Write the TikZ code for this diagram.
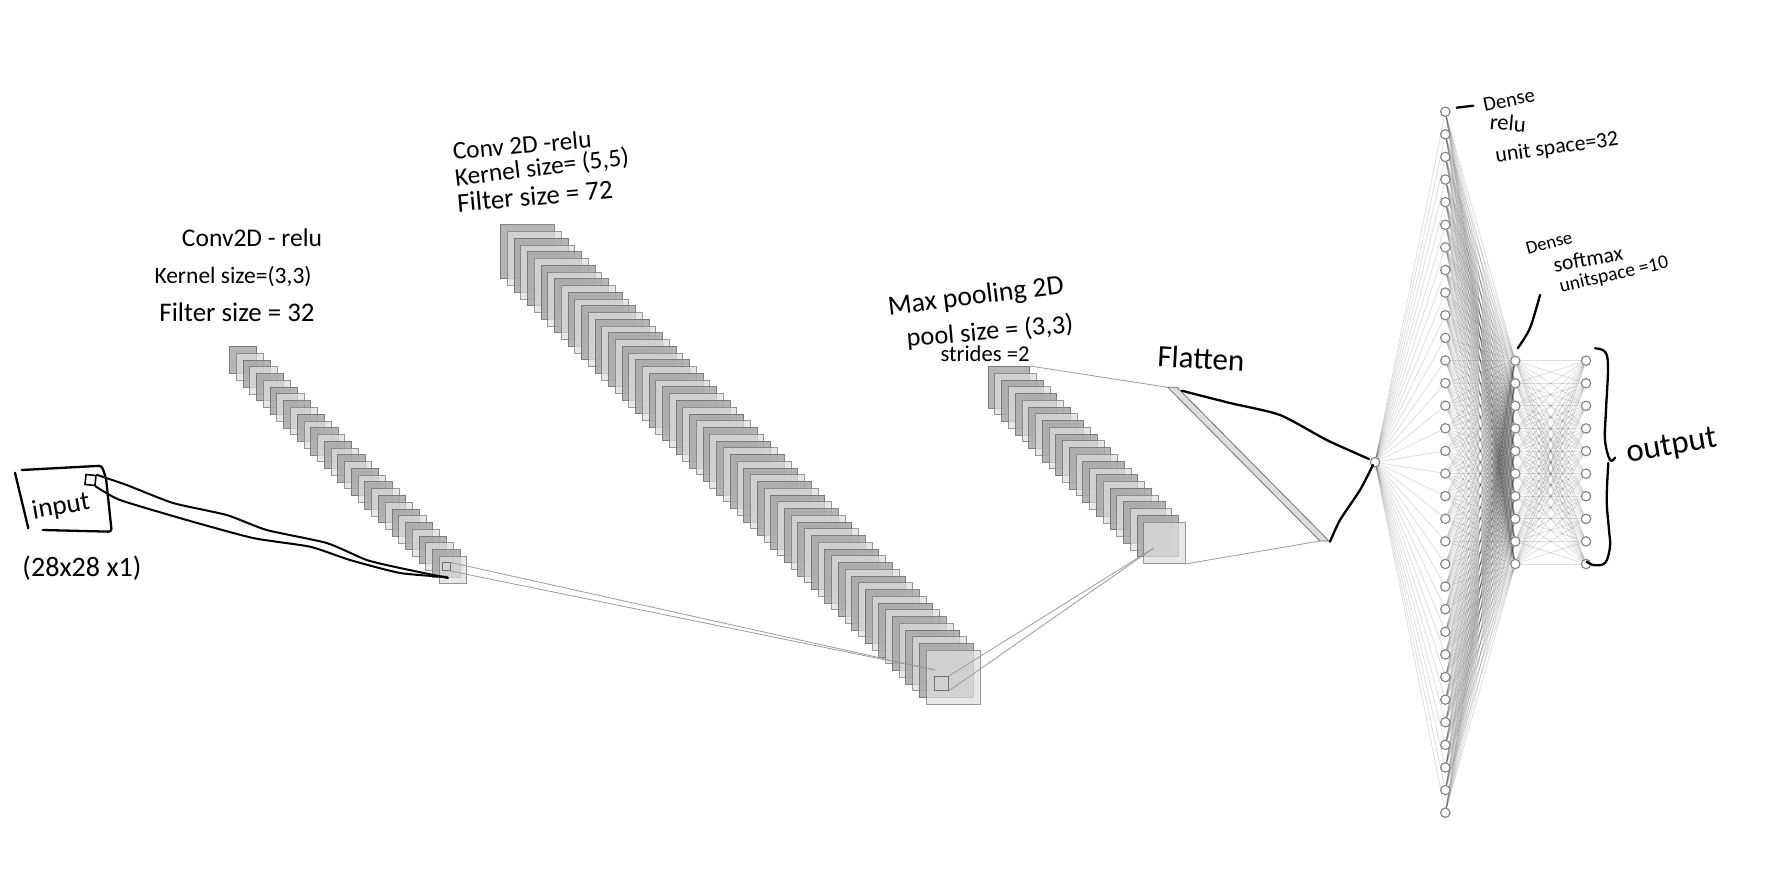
\documentclass[tikz,border=0pt]{standalone}
\usepackage{graphicx}
\usepackage{fontspec}
\setmainfont{Carlito}
\usetikzlibrary{backgrounds}
\definecolor{boxline}{HTML}{707070}
\definecolor{boxdark}{HTML}{A8A8A8}
\definecolor{boxlight}{HTML}{DEDEDE}
\definecolor{linkgrey}{HTML}{9A9A9A}
\newcommand{\hw}[2]{\resizebox{#1pt}{!}{#2}}
\tikzset{
  darkbox/.style={draw=boxline,line width=.8pt,fill=boxdark,fill opacity=.85,draw opacity=.85,inner sep=0pt,anchor=north west},
  lightbox/.style={draw=boxline,line width=.8pt,fill=boxlight,fill opacity=.72,draw opacity=.7,inner sep=0pt,anchor=north west},
  smallbox/.style={draw=boxline,line width=.9pt,inner sep=0pt},
  thinlink/.style={draw=linkgrey,line width=.8pt},
  netnode/.style={circle,draw=gray,fill=white,line width=1.1pt,minimum size=9.4pt,inner sep=0pt},
  netedge/.style={draw=black,draw opacity=.13,line width=.8pt},
  pen/.style={draw=black,line width=2.3pt,line cap=round,line join=round},
  label/.style={inner sep=0pt,text=black,anchor=center},
}
\begin{document}
\begin{tikzpicture}[x=1pt,y=-1pt]
\useasboundingbox (0,0) rectangle (1788,884);
% stacks of feature maps
\foreach \i in {0,...,31}{
  \ifodd\i\def\st{lightbox}\else\def\st{darkbox}\fi
  \node[\st,minimum size=27.3pt] (sa\i) at ({229+\i*6.774},{346+\i*6.774}) {};
}
\foreach \i in {0,...,63}{
  \ifodd\i\def\st{lightbox}\else\def\st{darkbox}\fi
  \node[\st,minimum size=54pt] (sb\i) at ({500+\i*6.757},{224.3+\i*6.757}) {};
}
\foreach \i in {0,...,23}{
  \ifodd\i\def\st{lightbox}\else\def\st{darkbox}\fi
  \node[\st,minimum size=41.5pt] (sc\i) at ({987.7+\i*6.767},{366+\i*6.767}) {};
}
% small filter windows
\node[smallbox,minimum size=7.7pt] (wa) at (446.2,566.7) {};
\node[smallbox,minimum size=14pt] (wb) at (941.7,683.2) {};
\coordinate (ca) at (935,670);
\coordinate (cb) at (1153.3,548.3);
\draw[thinlink] (wa.north east) -- (ca);
\draw[thinlink] (wa.south east) -- (ca);
\draw[thinlink] (wb.north east) -- (cb);
\draw[thinlink] (wb.south east) -- (cb);
% flatten bar
\coordinate (ftl) at (1167.7,387.3);
\coordinate (ftr) at (1177,387.3);
\coordinate (fbr) at (1329,541);
\coordinate (fbl) at (1320,541);
\draw[draw=boxline,line width=.8pt,fill=boxlight] (ftl) -- (ftr) -- (fbr) -- (fbl) -- cycle;
\draw[thinlink] (sc0.north east) -- (ftl);
\draw[thinlink] (sc23.south east) -- (fbl);
% network
\node[netnode] (n0) at (1375,462.2) {};
\foreach \i in {0,...,31}{
  \node[netnode] (d\i) at (1445.3,{111.7+\i*22.613}) {};
}
\foreach \i in {0,...,9}{
  \node[netnode] (e\i) at (1515.3,{360.7+\i*22.59}) {};
  \node[netnode] (f\i) at (1586,{360.7+\i*22.59}) {};
}
\begin{scope}[on background layer]
\foreach \i in {0,...,31}{
  \draw[netedge] (n0) -- (d\i);
  \foreach \j in {0,...,9}{
    \draw[netedge] (d\i) -- (e\j);
  }
}
\foreach \i in {0,...,9}{
  \foreach \j in {0,...,9}{
    \draw[netedge] (e\i) -- (f\j);
  }
}
\end{scope}
% pen strokes
\draw[pen] (15,472.7) -- (28.3,528.3);
\draw[pen,rounded corners=3pt] (21.7,470) -- (101.7,465.7) -- (106,478) -- (111.7,531.7) -- (42.7,530);
\node[draw=black,line width=1.6pt,inner sep=0pt,minimum size=10pt,rotate=-6] (win) at (90.5,480) {};
\draw[pen,line width=2pt] plot[smooth,tension=.35] coordinates {(win.north east) (126.7,485) (173,503) (226.7,515) (266.7,530) (326.7,543) (366.7,560) (400,568) (448,578)};
\draw[pen,line width=2pt] plot[smooth,tension=.35] coordinates {(win.south east) (120,500) (186.7,520) (253,538) (310,546.7) (350,560) (400,573) (447,577)};
\draw[pen] plot[smooth,tension=.4] coordinates {(1181.7,390.7) (1230,403) (1280,415) (1326.7,440) (1369,459)};
\draw[pen] plot[smooth,tension=.4] coordinates {(1330,541.7) (1340,520) (1360,490) (1373,465)};
\draw[pen] (1456.7,107.7) -- (1473.3,105.7);
\draw[pen] plot[smooth,tension=.5] coordinates {(1540,295) (1530,328) (1517.7,348.3)};
\draw[pen] plot[smooth,tension=.6] coordinates {(1595,348.3) (1605,351.7) (1608,367) (1606,410) (1605,440) (1610,460) (1615,457.6)};
\draw[pen] plot[smooth,tension=.6] coordinates {(1608.3,463) (1606.7,500) (1609,530) (1610,546.7) (1605,563) (1593,565) (1587,561.7)};
% labels
\node[label] (t1) at (252,238) {\hw{140}{Conv2D - relu}};
\node[label] (t2) at (233,277) {\hw{157}{Kernel size=(3,3)}};
\node[label] (t3) at (237,312) {\hw{155}{Filter size = 32}};
\node[label,rotate=5] (t4) at (522,145) {\hw{139}{Conv 2D -relu}};
\node[label,rotate=7] (t5) at (542,168) {\hw{175}{Kernel size= (5,5)}};
\node[label,rotate=5] (t6) at (535,196) {\hw{156}{Filter size = 72}};
\node[label,rotate=7] (t7) at (976,297) {\hw{177}{Max pooling 2D}};
\node[label,rotate=5] (t8) at (990,332) {\hw{167}{pool size = (3,3)}};
\node[label] (t9) at (985,354) {\hw{89}{strides =2}};
\node[label,rotate=-3] (t10) at (1201,358) {\hw{87}{Flatten}};
\node[label,rotate=10] (t11) at (61,507) {\hw{58}{input}};
\node[label] (t12) at (82,568) {\hw{119}{(28x28 x1)}};
\node[label,rotate=12] (t13) at (1509,100) {\hw{52}{Dense}};
\node[label,rotate=-5] (t14) at (1508,123) {\hw{36}{relu}};
\node[label,rotate=8] (t15) at (1557,148) {\hw{124}{unit space=32}};
\node[label,rotate=15] (t16) at (1549,243) {\hw{47}{Dense}};
\node[label,rotate=10] (t17) at (1588,259) {\hw{70}{softmax}};
\node[label,rotate=13] (t18) at (1614,275) {\hw{111}{unitspace =10}};
\node[label,rotate=10] (t19) at (1672,447) {\hw{91}{output}};
\end{tikzpicture}
\end{document}
